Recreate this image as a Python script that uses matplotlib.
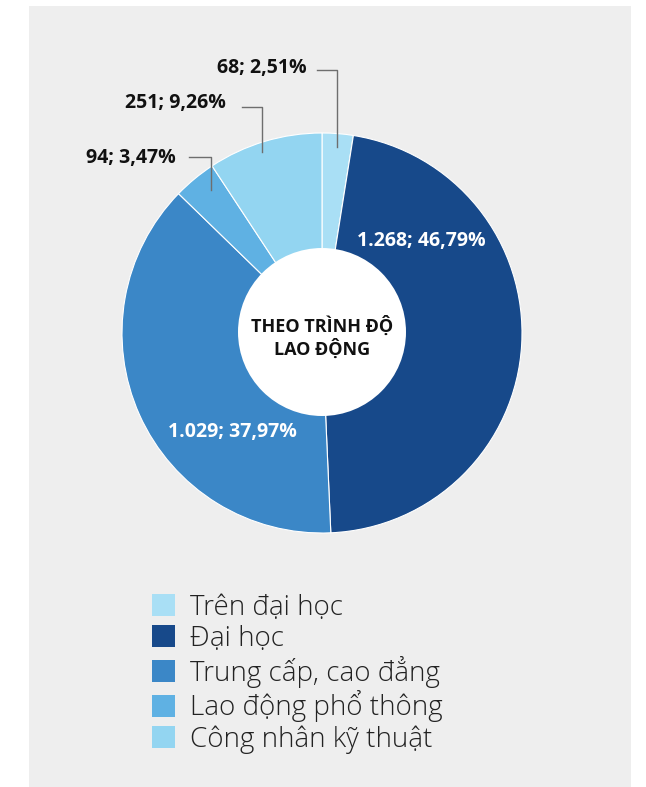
import matplotlib
matplotlib.use("Agg")
import matplotlib.pyplot as plt
from matplotlib.patches import Rectangle, Circle, Patch

# Lao động theo trình độ, clockwise from 12 o'clock
categories = ["Trên đại học", "Đại học", "Trung cấp, cao đẳng",
              "Lao động phổ thông", "Công nhân kỹ thuật"]
counts = [68, 1268, 1029, 94, 251]
count_labels = ["68", "1.268", "1.029", "94", "251"]
pct_labels = ["2,51%", "46,79%", "37,97%", "3,47%", "9,26%"]
colors = ["#a9dff5", "#17498a", "#3b87c7", "#5fb1e3", "#93d5f1"]

W, H = 646, 787
CX, CY, R = 322, 333, 200  # pie centre / radius in pixels

plt.rcParams["font.family"] = ["Open Sans", "DejaVu Sans"]

fig = plt.figure(figsize=(W / 100, H / 100), dpi=100, facecolor="white")

# grey backdrop panel
fig.patches.append(Rectangle((29 / W, 0), 602 / W, 781 / H, transform=fig.transFigure,
                             facecolor="#eeeeee", edgecolor="none", zorder=-1))

ax = fig.add_axes([(CX - R) / W, (H - CY - R) / H, 2 * R / W, 2 * R / H])
wedges, _ = ax.pie(counts, colors=colors, startangle=90, counterclock=False, radius=1,
                   wedgeprops=dict(edgecolor="white", linewidth=0.8))
# pie() pads the limits, pin them to the radius so the axes box is the circle
ax.set_xlim(-1, 1)
ax.set_ylim(-1, 1)
ax.set_aspect("equal")
ax.axis("off")

ax.add_patch(Circle((0, 0.005), 0.42, facecolor="white", edgecolor="none", zorder=5))
ax.text(0, -0.02, "THEO TRÌNH ĐỘ\nLAO ĐỘNG", ha="center", va="center", fontsize=13,
        fontweight="bold", color="#111111", linespacing=1.2, zorder=6)


def px(x, y):
    return (x - CX) / R, (CY - y) / R


lbl = dict(fontsize=14, fontweight="bold", va="center")

# labels inside the two big slices
for i, (x, y) in [(1, (421, 241)), (2, (232, 432))]:
    ax.text(*px(x, y), f"{count_labels[i]}; {pct_labels[i]}", ha="center",
            color="white", zorder=6, **lbl)

# outside labels with elbow leader lines
outside = {0: ((307, 68), (317, 70), (337, 70), (337, 147)),
           4: ((226, 103), (242, 107), (262, 107), (262, 152)),
           3: ((176, 158), (189, 157), (211, 157), (211, 190))}
for i, (t, a, b, c) in outside.items():
    ax.text(*px(*t), f"{count_labels[i]}; {pct_labels[i]}", ha="right",
            color="#111111", clip_on=False, **lbl)
    xs, ys = zip(*[px(*p) for p in (a, b, c)])
    ax.plot(xs, ys, color="#6e6e6e", linewidth=1, clip_on=False, zorder=7)

handles = [Patch(facecolor=c, edgecolor="none") for c in colors]
fig.legend(handles, categories, loc="upper left", bbox_to_anchor=(152 / W, 1 - 594 / H),
           frameon=False, handlelength=0.83, handleheight=0.83,
           handletextpad=0.55, labelspacing=0.1, borderaxespad=0, borderpad=0,
           prop=dict(family=["Open Sans", "DejaVu Sans"], weight="light", size=20),
           labelcolor="#222222")

fig.savefig("out.png", dpi=100)
